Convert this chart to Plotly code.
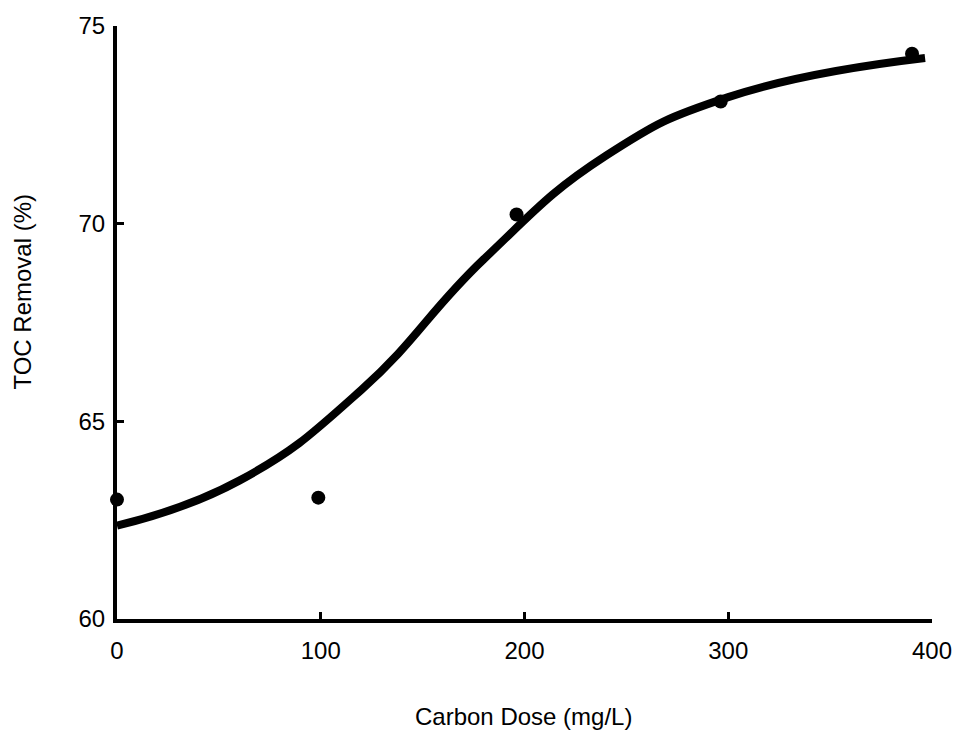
import plotly.graph_objects as go

# Measured data points
dose_pts = [0, 98.8, 196.1, 296.3, 390.2]
toc_pts = [63.02, 63.07, 70.23, 73.09, 74.30]

# Fitted curve
dose_curve = [0, 60, 120, 180, 240, 300, 396.6]
toc_curve = [62.36, 63.50, 65.80, 69.10, 71.72, 73.20, 74.19]

x_ticks = [0, 100, 200, 300, 400]
y_ticks = [60, 65, 70, 75]

FONT = "Liberation Sans, Arial, Helvetica, sans-serif"

fig = go.Figure()
fig.add_trace(go.Scatter(x=dose_curve, y=toc_curve, mode="lines",
                         line=dict(color="black", width=8, shape="spline", smoothing=1.3),
                         cliponaxis=False, hoverinfo="skip"))
fig.add_trace(go.Scatter(x=dose_pts, y=toc_pts, mode="markers",
                         marker=dict(color="black", size=14),
                         cliponaxis=False))

fig.update_layout(
    width=964, height=747,
    margin=dict(l=117, r=29, t=22, b=128),
    paper_bgcolor="white", plot_bgcolor="white",
    showlegend=False,
    font=dict(family=FONT, size=24, color="black"),
)
fig.update_xaxes(range=[0, 400], tickvals=x_ticks, ticktext=[str(v) for v in x_ticks],
                 showgrid=False, zeroline=False, showline=True, linecolor="black", linewidth=4,
                 ticks="inside", ticklen=7, tickwidth=3, tickcolor="black",
                 ticklabelstandoff=7, tickfont=dict(size=24))
fig.update_yaxes(range=[60, 75], tickvals=y_ticks, ticktext=[str(v) for v in y_ticks],
                 showgrid=False, zeroline=False, showline=True, linecolor="black", linewidth=4,
                 ticks="inside", ticklen=7, tickwidth=3, tickcolor="black",
                 ticklabelstandoff=3, tickfont=dict(size=24))

fig.add_annotation(text="Carbon Dose (mg/L)", xref="paper", yref="paper",
                   x=(525 - 117) / (935 - 117), y=-(717 - 619) / (619 - 22),
                   showarrow=False, font=dict(size=24), xanchor="center", yanchor="middle")
fig.add_annotation(text="TOC Removal (%)", xref="paper", yref="paper",
                   x=-(117 - 22) / (935 - 117), y=(619 - 289) / (619 - 22),
                   showarrow=False, font=dict(size=24), textangle=-90,
                   xanchor="center", yanchor="middle")

fig.write_html("out.html")
